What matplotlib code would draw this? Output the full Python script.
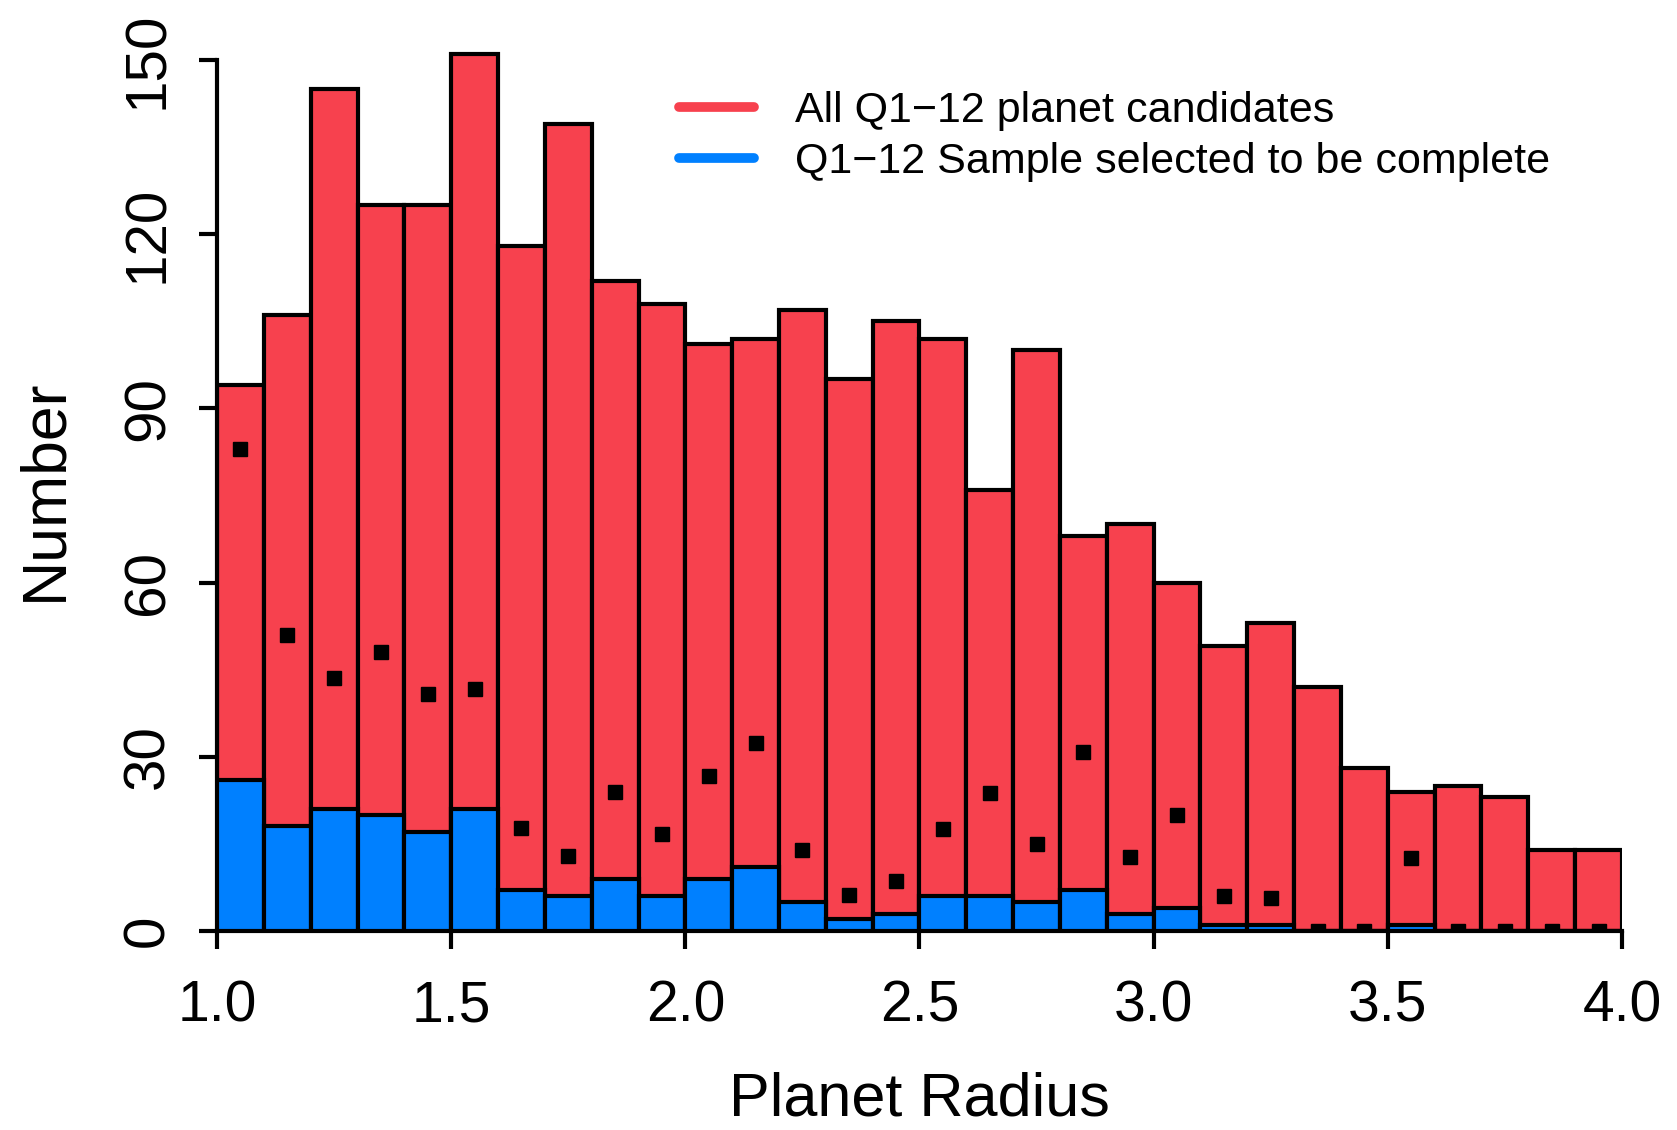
import numpy as np
import matplotlib
matplotlib.use("Agg")
import matplotlib.pyplot as plt
from matplotlib.lines import Line2D

plt.rcParams['font.family'] = ['Liberation Sans', 'DejaVu Sans']

# radius bins, width 0.1 from 1.0 to 4.0
bin_edges = np.round(np.arange(1.0, 4.01, 0.1), 2)

# all Q1-12 planet candidates per bin
all_counts = [94, 106, 145, 125, 125, 151, 118, 139, 112, 108,
              101, 102, 107, 95, 105, 102, 76, 100, 68, 70,
              60, 49, 53, 42, 28, 24, 25, 23, 14, 14]

# sample selected to be complete
complete_counts = [26, 18, 21, 20, 17, 21, 7, 6, 9, 6,
                   9, 11, 5, 2, 3, 6, 6, 5, 7, 3,
                   4, 1, 1, 0, 0, 1, 0, 0, 0, 0]

# corrected counts shown as black squares
corrected = [83.0, 50.9, 43.5, 48.1, 40.8, 41.7, 17.8, 13.0, 24.0, 16.7,
             26.7, 32.3, 14.0, 6.2, 8.6, 17.6, 23.7, 15.0, 30.8, 12.8,
             20.0, 6.1, 5.7, 0.0, 0.0, 12.5, 0.0, 0.0, 0.0, 0.0]

red = '#F7414E'
blue = '#0080FF'

fig = plt.figure(figsize=(16.77, 11.30), dpi=100)
ax = fig.add_axes([0.1294, 0.1761, 0.8378, 0.7812])

lefts = bin_edges[:-1]
ax.bar(lefts, all_counts, width=0.1, align='edge', color=red,
       edgecolor='black', linewidth=3, zorder=2)
ax.bar(lefts, complete_counts, width=0.1, align='edge', color=blue,
       edgecolor='black', linewidth=3, zorder=3)
ax.plot(lefts + 0.05, corrected, 's', color='black', markersize=10,
        zorder=4, clip_on=True)

ax.set_xlim(1.0, 4.0)
ax.set_ylim(0, 152)

for s in ['top', 'right']:
    ax.spines[s].set_visible(False)
for s in ['left', 'bottom']:
    ax.spines[s].set_linewidth(3)
ax.spines['left'].set_bounds(0, 150)

ax.set_xticks([1.0, 1.5, 2.0, 2.5, 3.0, 3.5, 4.0])
ax.set_xticklabels(['1.0', '1.5', '2.0', '2.5', '3.0', '3.5', '4.0'])
ax.set_yticks([0, 30, 60, 90, 120, 150])
ax.set_yticklabels(['0', '30', '60', '90', '120', '150'],
                   rotation=90, va='center')
ax.tick_params(axis='both', length=13, width=3)
ax.tick_params(axis='x', labelsize=41, pad=22)
ax.tick_params(axis='y', labelsize=42, pad=17)

ax.set_xlabel('Planet Radius', fontsize=44, labelpad=27)
ax.set_ylabel('Number', fontsize=45, labelpad=34)

handles = [Line2D([], [], color=red, linewidth=7, solid_capstyle='round'),
           Line2D([], [], color=blue, linewidth=7, solid_capstyle='round')]
ax.legend(handles, ['All Q1\u221212 planet candidates',
                    'Q1\u221212 Sample selected to be complete'],
          loc='upper left', bbox_to_anchor=(0.301, 0.995), frameon=False,
          fontsize=31, handlelength=1.75, handletextpad=0.95,
          labelspacing=0.24)

fig.savefig('out.png', dpi=100)
